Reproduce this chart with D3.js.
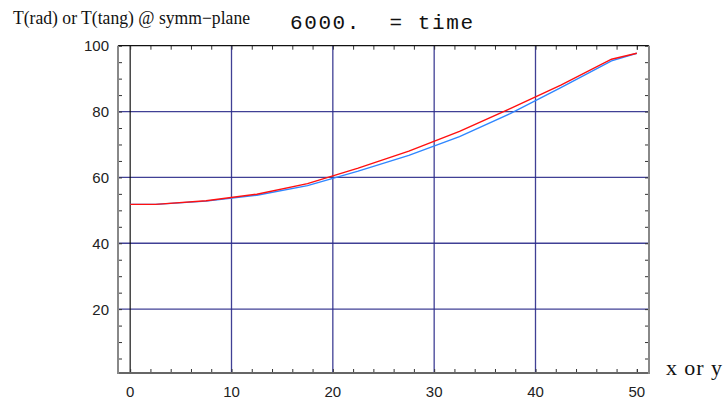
<!DOCTYPE html>
<html>
<head>
<meta charset="utf-8">
<script src="https://cdn.jsdelivr.net/npm/d3@7"></script>
<style>
  html, body { margin: 0; padding: 0; background: #fff; }
  svg { display: block; }
</style>
</head>
<body>
<svg id="chart" width="726" height="402"></svg>
<script>
// Temperature profile along the symmetry plane at t = 6000
const positions = [0, 2.5, 7.5, 12.5, 17.5, 22.5, 27.5, 32.5, 37.5, 42.5, 47.5, 50];
const tRad  = [51.8, 51.8, 52.9, 54.9, 58.1, 62.8, 68.0, 74.0, 80.9, 88.0, 95.9, 97.7];
const tTang = [51.8, 51.8, 52.8, 54.6, 57.5, 61.9, 66.7, 72.4, 79.4, 87.3, 95.4, 97.7];

const xTicks = [0, 10, 20, 30, 40, 50];
const yTicks = [20, 40, 60, 80, 100];
const xGrid = [10, 20, 30, 40];
const yGrid = [20, 40, 60, 80];

const titleText = "T(rad) or T(tang) @ symm\u2212plane";
const timeText = "6000.  = time";
const xLabelText = "x or y";

const W = 726, H = 402;
const plot = { left: 118, right: 649, top: 45.7, bottom: 373 };

const svg = d3.select("#chart");

const x = d3.scaleLinear().domain([-1.2, 51.2]).range([plot.left, plot.right]);
const y = d3.scaleLinear().domain([0.6, 100]).range([plot.bottom, plot.top]);

const grid = "#2b2b8a";

// grid lines
svg.append("g").selectAll("line").data(yGrid).join("line")
  .attr("x1", plot.left).attr("x2", plot.right)
  .attr("y1", d => y(d)).attr("y2", d => y(d))
  .attr("stroke", grid).attr("stroke-width", 1.3).attr("stroke-opacity", 0.9);
svg.append("g").selectAll("line").data(xGrid).join("line")
  .attr("y1", plot.top).attr("y2", plot.bottom)
  .attr("x1", d => x(d)).attr("x2", d => x(d))
  .attr("stroke", grid).attr("stroke-width", 1.3).attr("stroke-opacity", 0.9);

// vertical axis line at x = 0
svg.append("line")
  .attr("x1", x(0)).attr("x2", x(0)).attr("y1", plot.top).attr("y2", plot.bottom)
  .attr("stroke", "#000").attr("stroke-width", 1.1);

// frame ticks (inward) — bottom/top every 2, left/right every 5
const xMinor = d3.range(0, 51, 2).concat([50]);
const yMinor = d3.range(5, 101, 5);

const tickG = svg.append("g").attr("stroke", "#222").attr("stroke-width", 1);
const xAxisBottom = d3.axisBottom(x).tickValues(xMinor).tickSize(-4).tickFormat("");
const xAxisTop = d3.axisTop(x).tickValues(xMinor).tickSize(-4).tickFormat("");
const yAxisLeft = d3.axisLeft(y).tickValues(yMinor).tickSize(-4).tickFormat("");
const yAxisRight = d3.axisRight(y).tickValues(yMinor).tickSize(-4).tickFormat("");

[[xAxisBottom, `translate(0,${plot.bottom})`], [xAxisTop, `translate(0,${plot.top})`],
 [yAxisLeft, `translate(${plot.left},0)`], [yAxisRight, `translate(${plot.right},0)`]]
  .forEach(([ax, tr]) => {
    const g = svg.append("g").attr("transform", tr).call(ax);
    g.select(".domain").remove();
    g.selectAll("line").attr("stroke", "#333").attr("stroke-width", 1);
  });

// frame
svg.append("line").attr("x1", plot.left).attr("x2", plot.right)
  .attr("y1", plot.top).attr("y2", plot.top).attr("stroke", "#111").attr("stroke-width", 1.2);
svg.append("line").attr("x1", plot.left - 1).attr("x2", plot.right + 1)
  .attr("y1", plot.bottom).attr("y2", plot.bottom).attr("stroke", "#666").attr("stroke-width", 2);
svg.append("line").attr("x1", plot.left).attr("x2", plot.left)
  .attr("y1", plot.top).attr("y2", plot.bottom + 1).attr("stroke", "#888").attr("stroke-width", 2);
svg.append("line").attr("x1", plot.right).attr("x2", plot.right)
  .attr("y1", plot.top).attr("y2", plot.bottom + 1).attr("stroke", "#888").attr("stroke-width", 2);

// tick labels
svg.append("g").selectAll("text").data(xTicks).join("text")
  .attr("x", d => x(d)).attr("y", 397)
  .attr("text-anchor", "middle")
  .attr("font-family", "Liberation Sans, Arial, sans-serif").attr("font-size", 15)
  .attr("fill", "#222")
  .text(d => d);
svg.append("g").selectAll("text").data(yTicks).join("text")
  .attr("x", 109).attr("y", d => y(d) + 5.5)
  .attr("text-anchor", "end")
  .attr("font-family", "Liberation Sans, Arial, sans-serif").attr("font-size", 15)
  .attr("fill", "#222")
  .text(d => d);

// curves
const line = (vals) => d3.line().x((d, i) => x(positions[i])).y(d => y(d))(vals);
svg.append("path").attr("d", line(tTang))
  .attr("fill", "none").attr("stroke", "#2f86ff").attr("stroke-width", 1.4);
svg.append("path").attr("d", line(tRad))
  .attr("fill", "none").attr("stroke", "#ff1010").attr("stroke-width", 1.4);

// labels
svg.append("text").attr("x", 13).attr("y", 24)
  .attr("font-family", "Liberation Serif, Times New Roman, serif").attr("font-size", 18)
  .attr("textLength", 237).attr("lengthAdjust", "spacingAndGlyphs")
  .attr("fill", "#111")
  .text(titleText);
svg.append("text").attr("x", 290).attr("y", 29)
  .attr("font-family", "Liberation Mono, Courier New, monospace").attr("font-size", 21)
  .attr("textLength", 183).attr("lengthAdjust", "spacing")
  .attr("fill", "#111")
  .style("white-space", "pre")
  .text(timeText);
svg.append("text").attr("x", 666).attr("y", 375)
  .attr("font-family", "Liberation Serif, Times New Roman, serif").attr("font-size", 22)
  .attr("textLength", 56).attr("lengthAdjust", "spacing")
  .attr("fill", "#111")
  .text(xLabelText);
</script>
</body>
</html>
